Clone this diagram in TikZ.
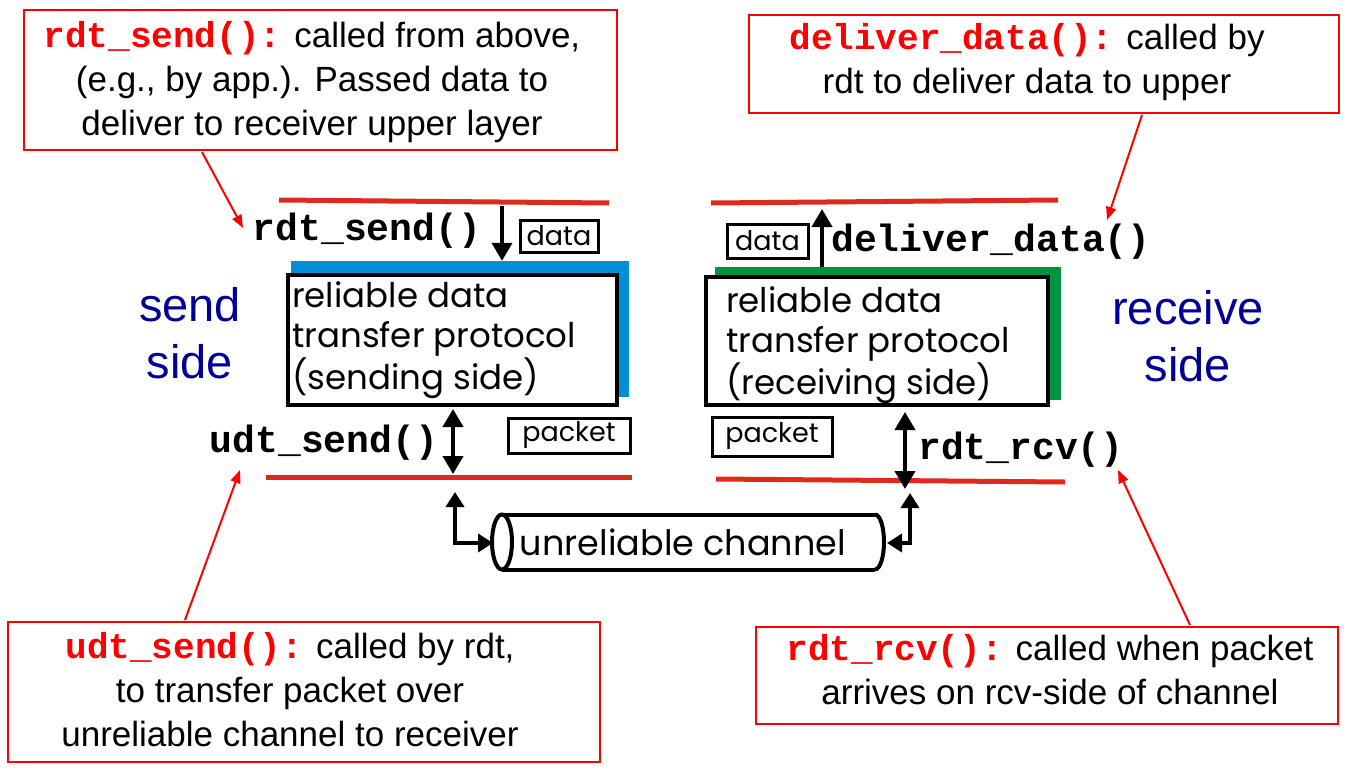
\documentclass[tikz,border=0pt]{standalone}
\usepackage{fontspec}
\setmainfont{Liberation Sans}
\newfontfamily\geo{Poppins}
\newfontfamily\mono{Liberation Mono}
\usetikzlibrary{arrows.meta,fit}
\definecolor{calred}{RGB}{255,0,0}
\definecolor{linered}{RGB}{221,42,27}
\definecolor{sendblue}{RGB}{0,142,214}
\definecolor{rcvgreen}{RGB}{0,146,63}
\definecolor{sidetext}{RGB}{0,0,153}
\tikzset{
  calloutbox/.style={draw=calred, line width=2.4pt, inner sep=0pt},
  callouttext/.style={align=center, inner sep=0pt, font=\fontsize{35}{44}\selectfont},
  ptr/.style={draw=calred, line width=2pt, -{Triangle[length=13pt,width=10pt]}},
  layer/.style={draw=linered, line width=5pt},
  protobox/.style={draw=black, line width=4pt, fill=white, inner sep=0pt},
  shadowbox/.style={inner sep=0pt},
  prototext/.style={align=left, inner sep=0pt, anchor=west, font=\geo\fontsize{34}{40}\selectfont},
  smallbox/.style={draw=black, line width=3pt, inner sep=0pt},
  smalltext/.style={inner sep=0pt, font=\geo\fontsize{27}{28}\selectfont},
  apilabel/.style={inner sep=0pt, font=\mono\bfseries\fontsize{38}{40}\selectfont},
  sidelabel/.style={align=center, inner sep=0pt, text=sidetext, font=\fontsize{47}{57}\selectfont},
  bigarrow/.style={line width=4pt, -{Triangle[length=18pt,width=20pt]}},
  dblarrow/.style={line width=4pt, {Triangle[length=18pt,width=20pt]}-{Triangle[length=18pt,width=20pt]}},
  charrow/.style={line width=4pt, {Triangle[length=15pt,width=18pt]}-{Triangle[length=15pt,width=18pt]}},
  pipe/.style={line width=4pt}
}
\newcommand{\fnname}[1]{{\fontsize{36}{44}\selectfont\mono\bfseries\color{calred}#1}}
\begin{document}
\begin{tikzpicture}[x=1pt,y=-1pt]
\useasboundingbox (0,0) rectangle (1364,778);

% ---------- callouts ----------
\node[calloutbox, fit={(24,10) (617,150)}] (c1) {};
\node[callouttext] (t1) at (312,82) {\fnname{rdt\_send():} called from above,\\(e.g., by app.). Passed data to\\deliver to receiver upper layer};

\node[calloutbox, fit={(749,15) (1339,113)}] (c2) {};
\node[callouttext] (t2) at (1027,62) {\fnname{deliver\_data():} called by\\rdt to deliver data to upper};

\node[calloutbox, fit={(8,622) (600,762)}] (c3) {};
\node[callouttext] (t3) at (290,690) {\fnname{udt\_send():} called by rdt,\\to transfer packet over\\unreliable channel to receiver};

\node[calloutbox, fit={(756,627) (1338,724)}] (c4) {};
\node[callouttext] (t4) at (1050,670) {\fnname{rdt\_rcv():} called when packet\\arrives on rcv-side of channel};

% ---------- layer lines ----------
\coordinate (l1a) at (279,200); \coordinate (l1b) at (609,203);
\coordinate (l2a) at (266,477); \coordinate (l2b) at (632,477);
\coordinate (l3a) at (711,203); \coordinate (l3b) at (1058,200);
\coordinate (l4a) at (716,479); \coordinate (l4b) at (1065,482);
\draw[layer] (l1a) -- (l1b);
\draw[layer] (l2a) -- (l2b);
\draw[layer] (l3a) -- (l3b);
\draw[layer] (l4a) -- (l4b);

% ---------- sending side ----------
\node[shadowbox, fill=sendblue, fit={(291,261) (629,397)}] (sshadow) {};
\node[protobox, fit={(288,275) (617,405)}] (sbox) {};
\node[prototext] (stext) at (292,340) {reliable data\\transfer protocol\\(sending side)};

\node[apilabel] (rsend) at (367,231) {rdt\_send()};
\node[smallbox, fit={(520,220) (598,252)}] (sdatabox) {};
\node[smalltext] (sdata) at (sdatabox.center) {data};
\coordinate (sdin) at (502,206);
\draw[bigarrow] (sdin) -- (sdin |- sshadow.north);

\node[apilabel] (usend) at (324,443) {udt\_send()};
\coordinate (ua) at (453,409); \coordinate (ub) at (453,474);
\draw[dblarrow] (ua) -- (ub);
\node[smallbox, fit={(508,418) (630,453)}] (spacketbox) {};
\node[smalltext] (spacket) at (spacketbox.center) {packet};

% ---------- receiving side ----------
\node[shadowbox, fill=rcvgreen, fit={(715,267) (1061,400)}] (rshadow) {};
\node[protobox, fit={(706,277) (1048,405)}] (rbox) {};
\node[prototext] (rtext) at (726,345) {reliable data\\transfer protocol\\(receiving side)};

\node[smallbox, fit={(727,224) (808,258)}] (rdatabox) {};
\node[smalltext] (rdata) at (rdatabox.center) {data};
\coordinate (rdout) at (822,209);
\draw[bigarrow] (rdout |- rshadow.north) -- (rdout);
\node[apilabel, anchor=west] (deliver) at (831,242) {deliver\_data()};

\node[smallbox, fit={(712,417) (832,456)}] (rpacketbox) {};
\node[smalltext] (rpacket) at (rpacketbox.center) {packet};
\coordinate (ra) at (905,412); \coordinate (rb) at (905,489);
\draw[dblarrow] (ra) -- (rb);
\node[apilabel, anchor=west] (rrcv) at (918,450) {rdt\_rcv()};

% ---------- side labels ----------
\node[sidelabel] (sendside) at (190,333) {send\\side};
\node[sidelabel] (rcvside) at (1188,336) {receive\\side};

% ---------- channel ----------
\draw[pipe, fill=white] (502,542) ellipse[x radius=10pt, y radius=27.5pt];
\draw[pipe] (502,514.5) -- (875,514.5);
\draw[pipe] (502,569.5) -- (875,569.5);
\draw[pipe] (875,514.5) arc[start angle=90, end angle=-90, x radius=9pt, y radius=27.5pt];
\node[inner sep=0pt, font=\geo\fontsize{35}{36}\selectfont] (chan) at (683,542) {unreliable channel};
\coordinate (chl) at (493,543); \coordinate (chr) at (887,543);
\coordinate (cl) at (455,492); \coordinate (cr) at (910,493);
\draw[charrow] (chl) -| (cl);
\draw[charrow] (chr) -| (cr);

% ---------- pointers ----------
\coordinate (p1) at (202,152); \coordinate (q1) at (243,228);
\coordinate (p2) at (1142,115); \coordinate (q2) at (1107,220);
\coordinate (p3) at (185,620); \coordinate (q3) at (240,470);
\coordinate (p4) at (1190,625); \coordinate (q4) at (1118,470);
\draw[ptr] (p1) -- (q1);
\draw[ptr] (p2) -- (q2);
\draw[ptr] (p3) -- (q3);
\draw[ptr] (p4) -- (q4);
\end{tikzpicture}
\end{document}
